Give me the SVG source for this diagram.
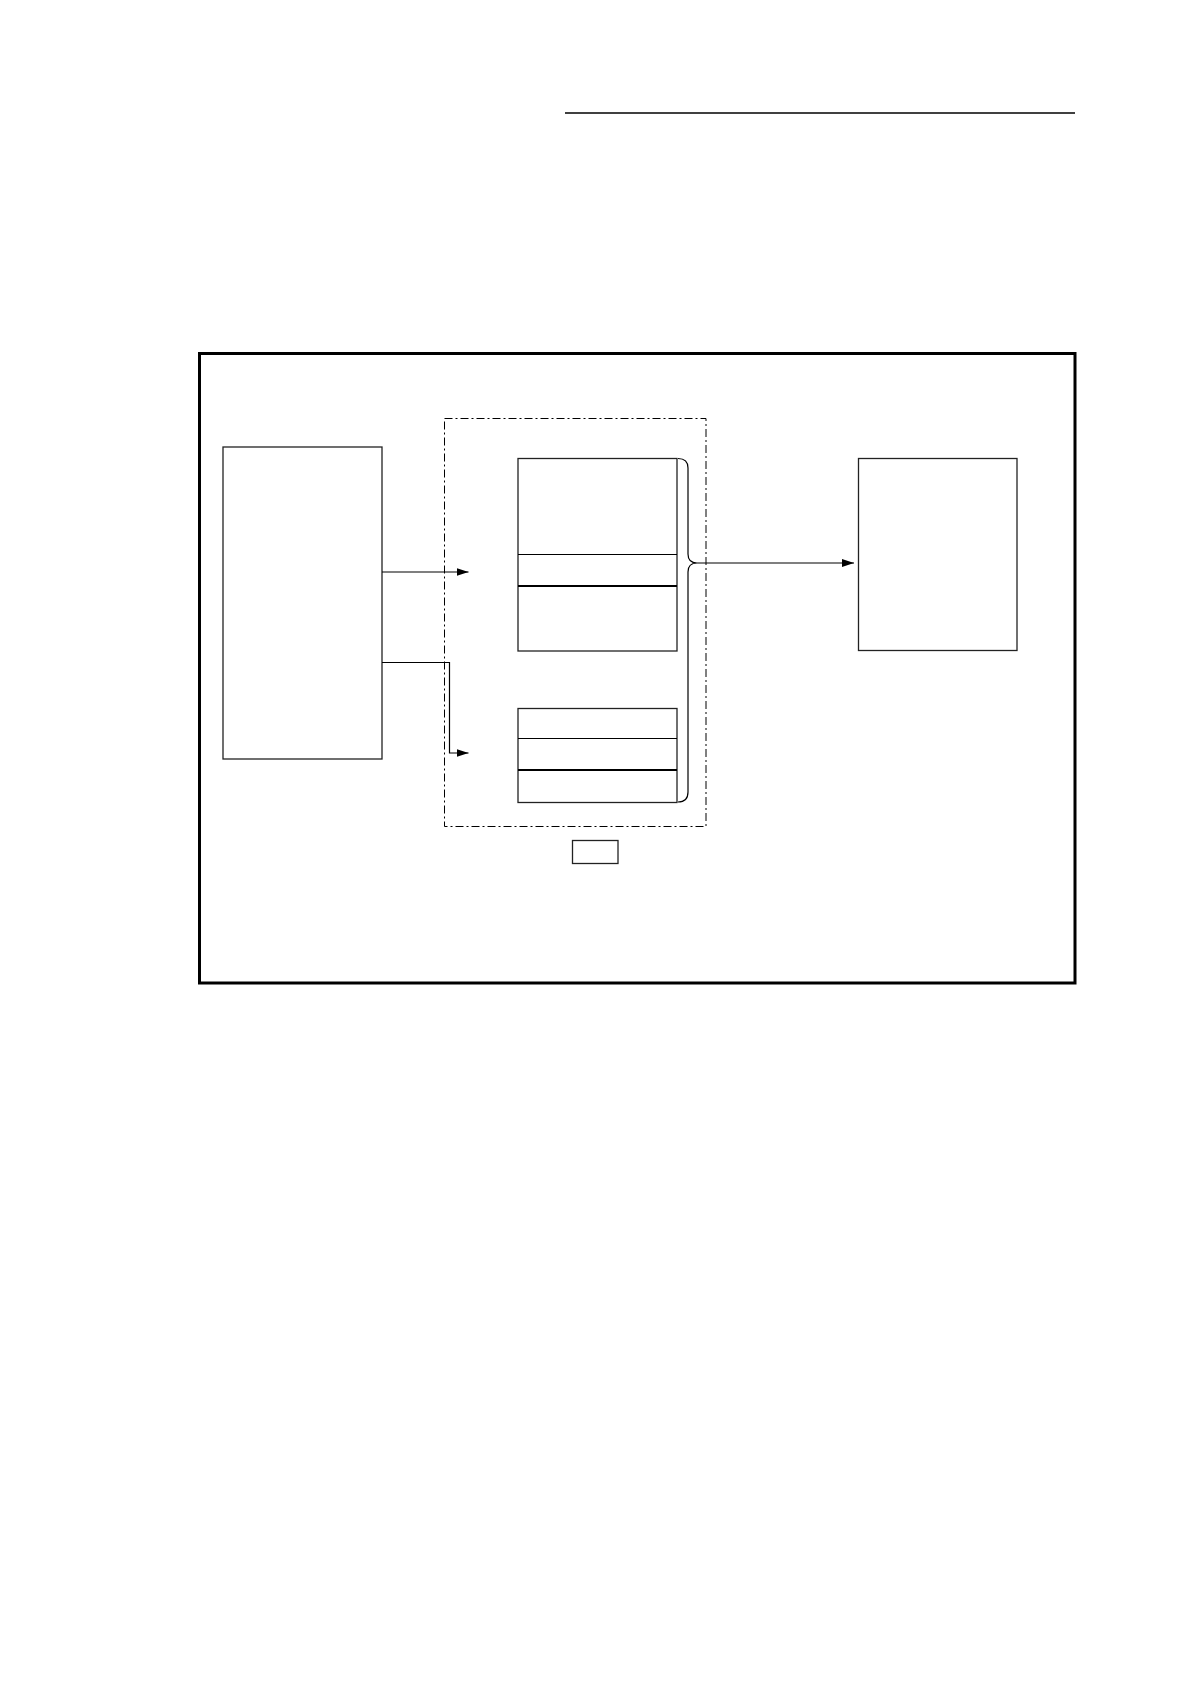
<svg xmlns="http://www.w3.org/2000/svg" width="1190" height="1684" viewBox="0 0 1190 1684">
<style>
.box{fill:none;stroke:#222;stroke-width:1.3}
.sep{stroke:#000;stroke-width:1.2}
.sep2{stroke:#000;stroke-width:2}
.conn{fill:none;stroke:#000;stroke-width:1.2}
.dash{fill:none;stroke:#000;stroke-width:1;stroke-dasharray:8 3 2 3}
</style>
<defs>
<marker id="ah" markerWidth="12" markerHeight="8" refX="12" refY="4" orient="auto" markerUnits="userSpaceOnUse">
<path d="M0,0 L12,4 L0,8 Z" fill="#000"/>
</marker>
</defs>
<rect width="1190" height="1684" fill="#fff"/>
<line x1="565" y1="113" x2="1075" y2="113" stroke="#000" stroke-width="1.3"/>
<rect id="frame" x="199.5" y="353.5" width="875.5" height="629.5" fill="none" stroke="#000" stroke-width="3"/>
<g id="left-box"><rect class="box" x="223" y="447" width="159" height="312"/></g>
<g id="group-box"><rect class="dash" x="444.5" y="418.5" width="261.5" height="408"/></g>
<g id="upper-block">
<rect class="box" x="518" y="458.5" width="159" height="192.5"/>
<line class="sep" x1="518" y1="554.5" x2="677" y2="554.5"/>
<line class="sep2" x1="518" y1="586" x2="677" y2="586"/>
</g>
<g id="lower-block">
<rect class="box" x="518" y="708.5" width="159" height="94"/>
<line class="sep" x1="518" y1="738.5" x2="677" y2="738.5"/>
<line class="sep2" x1="518" y1="770" x2="677" y2="770"/>
</g>
<g id="brace"><path class="conn" d="M678,458.5 Q688,458.5 688,468 L688,554 Q688,563 697,563 Q688,563 688,572 L688,792 Q688,802 678,802"/></g>
<g id="right-box"><rect class="box" x="858.5" y="458.5" width="158.5" height="192"/></g>
<g id="small-box"><rect class="box" x="572.5" y="840.5" width="45.5" height="23"/></g>
<g id="connectors">
<line class="conn" x1="382" y1="572" x2="468.5" y2="572" marker-end="url(#ah)"/>
<polyline class="conn" points="382,662.5 449.5,662.5 449.5,753 468.5,753" marker-end="url(#ah)"/>
<line class="conn" x1="697" y1="563" x2="854" y2="563" marker-end="url(#ah)"/>
</g>
</svg>
